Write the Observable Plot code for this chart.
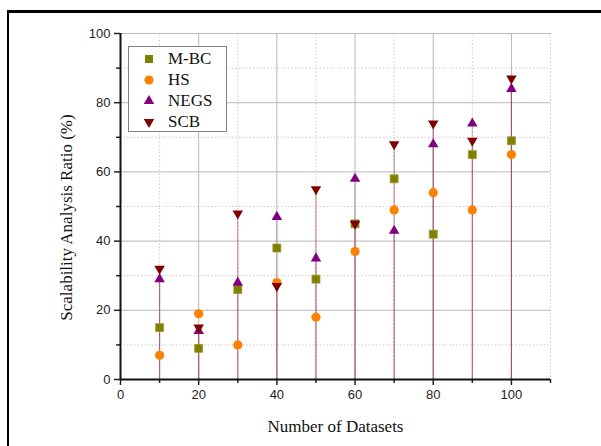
<!DOCTYPE html>
<html>
<head>
<meta charset="utf-8">
<script src="https://cdn.jsdelivr.net/npm/d3@7"></script>
<script src="https://cdn.jsdelivr.net/npm/@observablehq/plot@0.6"></script>
<style>
  html, body { margin: 0; padding: 0; background: #fff; overflow: hidden; }
  #wrap { position: relative; width: 601px; height: 446px; overflow: hidden; }
  #frame { position: absolute; left: 7px; top: 10px; width: 800px; height: 800px;
           border-left: 2px solid #000; border-top: 3px solid #000; pointer-events: none; }
  #legend { position: absolute; left: 128px; top: 46px; width: 99px; height: 86px;
            border: 1.5px solid #808080; background: #fff; box-sizing: border-box;
            font-family: "Liberation Serif", "Times New Roman", serif; font-size: 17px; color: #111; }
  .row { position: absolute; left: 0; height: 21px; display: flex; align-items: center; }
  .row svg { margin-left: 13px; }
  .row span { margin-left: 12px; }
</style>
</head>
<body>
<div id="wrap">
  <div id="chart"></div>
  <div id="frame"></div>
  <div id="legend"></div>
</div>
<script>
const datasets = [10, 20, 30, 40, 50, 60, 70, 80, 90, 100];
const mbc  = [15, 9, 26, 38, 29, 45, 58, 42, 65, 69];
const hs   = [7, 19, 10, 28, 18, 37, 49, 54, 49, 65];
const negs = [29, 14, 28, 47, 35, 58, 43, 68, 74, 84];
const scb  = [32, 15, 48, 27, 55, 45, 68, 74, 69, 87];
const seriesNames = ["M-BC", "HS", "NEGS", "SCB"];
const seriesColors = ["#808000", "#ff8000", "#800080", "#800000"];
const xMajor = [0, 20, 40, 60, 80, 100];
const xMinor = [10, 30, 50, 70, 90, 110];
const yMajor = [0, 20, 40, 60, 80, 100];
const yMinor = [10, 30, 50, 70, 90];

const triangleDown = {
  draw(context, size) {
    const y = -Math.sqrt(size / (3 * Math.sqrt(3)));
    context.moveTo(0, -y * 2);
    context.lineTo(-Math.sqrt(3) * y, y);
    context.lineTo(Math.sqrt(3) * y, y);
    context.closePath();
  }
};

const rows = (vals) => datasets.map((d, i) => ({x: d, y: vals[i]}));
const dMbc = rows(mbc), dHs = rows(hs), dNegs = rows(negs), dScb = rows(scb);

const chart = Plot.plot({
  width: 601,
  height: 446,
  marginLeft: 120,
  marginRight: 51,
  marginTop: 33,
  marginBottom: 67,
  style: {background: "transparent", fontFamily: "'Liberation Sans', Arial, sans-serif", fontSize: "13px", color: "#222"},
  x: {domain: [0, 110]},
  y: {domain: [0, 100]},
  marks: [
    Plot.gridX(xMinor, {stroke: "#cccccc", strokeOpacity: 1, strokeDasharray: "1.5,2"}),
    Plot.gridY(yMinor, {stroke: "#cccccc", strokeOpacity: 1, strokeDasharray: "1.5,2"}),
    Plot.gridX(xMajor.filter(d => d > 0), {stroke: "#b8b8b8", strokeOpacity: 1}),
    Plot.gridY(yMajor.filter(d => d > 0), {stroke: "#b8b8b8", strokeOpacity: 1}),
    Plot.ruleX(dNegs, {x: "x", y1: 0, y2: "y", stroke: seriesColors[2], strokeOpacity: 0.3, strokeWidth: 1.1}),
    Plot.ruleX(dScb, {x: "x", y1: 0, y2: "y", stroke: "#951a1a", strokeOpacity: 0.5, strokeWidth: 1.1}),
    Plot.axisX({ticks: xMajor, tickSize: 6, tickPadding: 4, stroke: "#222", strokeWidth: 1.5, label: null, fontSize: 13}),
    Plot.axisX({ticks: xMinor, tickSize: 4, text: null, stroke: "#222", strokeWidth: 1.5, label: null}),
    Plot.axisY({ticks: yMajor, tickSize: 6, tickPadding: 4, stroke: "#222", strokeWidth: 1.5, label: null, fontSize: 13}),
    Plot.axisY({ticks: yMinor, tickSize: 4, text: null, stroke: "#222", strokeWidth: 1.5, label: null}),
    Plot.ruleX([0], {stroke: "#111", strokeWidth: 2}),
    Plot.ruleY([0], {stroke: "#111", strokeWidth: 2}),
    Plot.dot(dMbc, {x: "x", y: "y", symbol: "square", r: 4.5, fill: seriesColors[0], stroke: "#9a9a30", strokeWidth: 0.8}),
    Plot.dot(dHs, {x: "x", y: "y", symbol: "circle", r: 4.6, fill: seriesColors[1]}),
    Plot.dot(dNegs, {x: "x", y: "y", symbol: "triangle", r: 3.9, fill: seriesColors[2]}),
    Plot.dot(dScb, {x: "x", y: "y", symbol: triangleDown, r: 3.9, fill: seriesColors[3]}),
    Plot.text(["Number of Datasets"], {frameAnchor: "bottom", dy: 52, lineAnchor: "bottom", textAnchor: "middle",
      fontFamily: "'Liberation Serif', 'Times New Roman', serif", fontSize: 17, fill: "#111"}),
    Plot.text(["Scalability Analysis Ratio (%)"], {frameAnchor: "left", dx: -49, dy: 11, rotate: -90, lineAnchor: "bottom", textAnchor: "middle",
      fontFamily: "'Liberation Serif', 'Times New Roman', serif", fontSize: 17, fill: "#111"})
  ]
});
document.getElementById("chart").appendChild(chart);

// Legend
const legend = document.getElementById("legend");
const symbolSvgs = [
  d3.symbol(d3.symbolSquare, 64)(),
  d3.symbol(d3.symbolCircle, Math.PI * 4.6 * 4.6)(),
  d3.symbol(d3.symbolTriangle, Math.PI * 3.9 * 3.9)(),
  d3.symbol(triangleDown, Math.PI * 3.9 * 3.9)()
];
seriesNames.forEach((name, i) => {
  const row = document.createElement("div");
  row.className = "row";
  row.style.top = (1 + i * 21) + "px";
  row.innerHTML = `<svg width="14" height="14" viewBox="-7 -7 14 14"><path d="${symbolSvgs[i]}" fill="${seriesColors[i]}"/></svg><span>${name}</span>`;
  legend.appendChild(row);
});
</script>
</body>
</html>
